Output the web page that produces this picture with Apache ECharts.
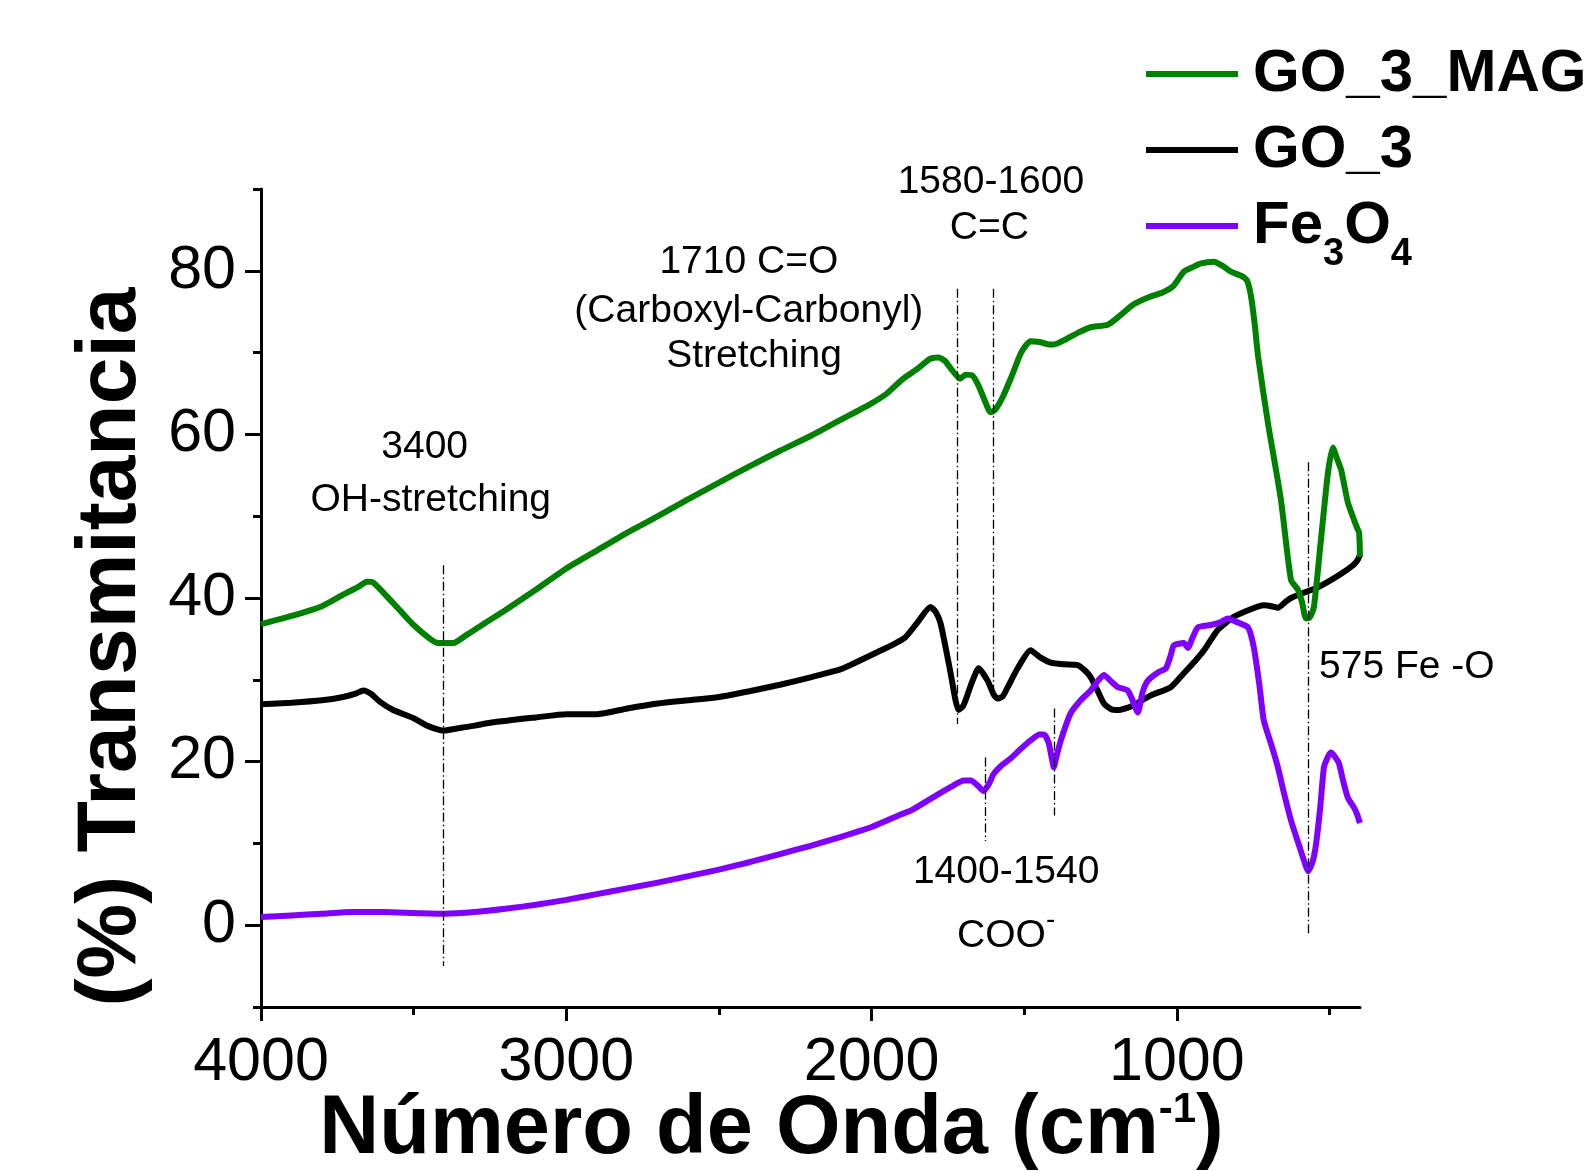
<!DOCTYPE html>
<html>
<head>
<meta charset="utf-8">
<title>FTIR GO_3_MAG</title>
<script src="https://cdn.jsdelivr.net/npm/echarts@6.0.0/dist/echarts.min.js"></script>
<style>
  html, body { margin: 0; padding: 0; background: #fff; }
  #chart { width: 1592px; height: 1171px; }
</style>
</head>
<body>
<div id="chart"></div>
<script>
// wavenumber (cm-1) / transmittance (%)
const goMagWn = [4000, 3900, 3800, 3731, 3680, 3653, 3633, 3580, 3540, 3500, 3446, 3420, 3370, 3330, 3280, 3200, 3100, 3000, 2900, 2800, 2700, 2600, 2500, 2400, 2300, 2200, 2100, 2000, 1950, 1900, 1850, 1810, 1780, 1760, 1735, 1710, 1692, 1670, 1650, 1630, 1610, 1595, 1570, 1540, 1510, 1479, 1450, 1420, 1403, 1360, 1320, 1282, 1226, 1190, 1141, 1090, 1043, 1010, 977, 950, 921, 879, 850, 823, 790, 770, 757, 745, 734, 702, 659, 626, 603, 590, 577, 565, 551, 528, 505, 489, 475, 462, 440, 423, 410, 403, 400];
const goMagT = [36.8, 37.8, 39.0, 40.4, 41.4, 42.0, 41.9, 39.9, 38.3, 36.7, 35.0, 34.5, 34.5, 35.4, 36.6, 38.5, 41.0, 43.6, 45.8, 48.0, 50.0, 52.1, 54.1, 56.1, 58.0, 59.8, 61.8, 63.8, 65.0, 66.7, 68.0, 69.2, 69.4, 69.0, 67.8, 66.8, 67.3, 67.2, 66.0, 64.2, 62.7, 63.0, 64.6, 67.2, 70.0, 71.4, 71.3, 71.0, 71.0, 71.7, 72.5, 73.1, 73.4, 74.4, 75.9, 76.8, 77.4, 78.2, 79.9, 80.4, 80.9, 81.1, 80.6, 79.9, 79.4, 78.8, 76.9, 73.5, 69.6, 61.5, 52.0, 42.2, 41.0, 39.5, 37.5, 37.6, 38.9, 47.1, 55.3, 58.4, 57.0, 55.7, 51.7, 49.9, 48.6, 48.0, 45.0];

const goWn = [4000, 3900, 3800, 3731, 3690, 3665, 3640, 3610, 3567, 3500, 3456, 3403, 3350, 3300, 3239, 3100, 3000, 2900, 2800, 2700, 2600, 2500, 2400, 2300, 2200, 2100, 2069, 1980, 1930, 1889, 1850, 1807, 1790, 1774, 1755, 1741, 1725, 1715, 1700, 1692, 1670, 1649, 1620, 1600, 1587, 1570, 1554, 1520, 1479, 1450, 1413, 1370, 1325, 1300, 1282, 1260, 1239, 1215, 1193, 1160, 1141, 1085, 1020, 977, 940, 911, 866, 813, 760, 715, 690, 669, 645, 626, 580, 538, 490, 452, 420, 407, 400];
const goT = [27.0, 27.2, 27.5, 27.9, 28.3, 28.7, 28.3, 27.3, 26.3, 25.3, 24.4, 23.8, 24.1, 24.4, 24.8, 25.4, 25.8, 25.8, 26.5, 27.1, 27.5, 27.9, 28.6, 29.4, 30.3, 31.3, 31.8, 33.4, 34.3, 35.2, 37.0, 38.9, 38.3, 36.9, 33.5, 30.8, 27.5, 26.3, 26.8, 27.5, 29.8, 31.4, 29.9, 28.2, 27.7, 28.0, 29.1, 31.5, 33.6, 32.8, 32.1, 31.9, 31.8, 31.1, 30.3, 28.7, 27.1, 26.4, 26.3, 26.6, 26.9, 28.1, 29.1, 30.8, 32.3, 33.6, 36.1, 37.7, 38.6, 39.1, 39.0, 38.8, 39.5, 40.0, 40.7, 41.3, 42.3, 43.2, 44.1, 44.7, 45.3];

const feWn = [4000, 3900, 3800, 3700, 3600, 3500, 3400, 3300, 3200, 3100, 3000, 2900, 2800, 2700, 2600, 2500, 2400, 2300, 2200, 2100, 2000, 1900, 1872, 1800, 1740, 1698, 1675, 1650, 1633, 1615, 1600, 1575, 1544, 1510, 1479, 1450, 1435, 1420, 1410, 1403, 1395, 1380, 1348, 1315, 1282, 1260, 1239, 1215, 1193, 1161, 1145, 1128, 1112, 1095, 1062, 1036, 1020, 1010, 977, 964, 950, 931, 889, 860, 833, 800, 767, 748, 730, 715, 690, 669, 650, 626, 600, 580, 570, 555, 544, 530, 518, 505, 495, 482, 469, 455, 440, 420, 410, 403, 400];
const feT = [1.0, 1.2, 1.4, 1.6, 1.6, 1.5, 1.4, 1.6, 2.0, 2.5, 3.1, 3.8, 4.5, 5.2, 6.0, 6.8, 7.7, 8.7, 9.7, 10.8, 12.0, 13.6, 14.0, 15.6, 16.9, 17.7, 17.7, 17.0, 16.4, 17.3, 18.5, 19.5, 20.4, 21.6, 22.6, 23.3, 23.3, 22.3, 20.5, 19.3, 20.5, 22.6, 25.9, 27.5, 28.7, 29.8, 30.6, 29.8, 29.1, 28.7, 27.5, 26.0, 28.5, 29.9, 30.9, 31.4, 33.0, 34.2, 34.5, 33.9, 35.0, 36.4, 36.7, 37.0, 37.5, 37.0, 36.4, 34.0, 29.5, 25.0, 22.0, 19.3, 16.3, 12.8, 9.8, 7.5, 6.6, 7.8, 9.9, 14.5, 19.3, 20.6, 21.1, 20.6, 19.8, 17.6, 15.6, 14.4, 13.6, 12.8, 12.5];

const seriesNames = ['GO_3_MAG', 'GO_3', 'Fe3O4'];
const seriesColors = ['#008000', '#000000', '#8000ff'];

const xMajor = [4000, 3000, 2000, 1000];
const xMinor = [3500, 2500, 1500, 500];
const yMajor = [0, 20, 40, 60, 80];
const yMinor = [-10, 10, 30, 50, 70, 90];

// dash-dot guide lines: [wavenumber, top %, bottom %]
const guideLines = [
  [3403, 44.0, -5.0],
  [1718, 77.8, 24.6],
  [1600, 77.8, 28.8],
  [1626, 20.5, 10.3],
  [1403, 26.5, 13.4],
  [570, 56.6, -1.3]
];

// annotation texts: [wavenumber, %, text, placement]
const notes = [
  [3464, 58.4, '3400', 'inside'],
  [3444, 52.0, 'OH-stretching', 'inside'],
  [2402, 81.0, '1710 C=O', 'inside'],
  [2402, 75.1, '(Carboxyl-Carbonyl)', 'inside'],
  [2385, 69.5, 'Stretching', 'inside'],
  [1609, 90.8, '1580-1600', 'inside'],
  [1614, 85.2, 'C=C', 'inside'],
  [534, 31.5, '575 Fe -O', 'right'],
  [1559, 6.5, '1400-1540', 'inside'],
  [1559, -0.4, '{a|COO}{s|-}', 'inside']
];

const FONT = 'Liberation Sans, Arial, sans-serif';

function pairs(xs, ys) {
  return xs.map((x, i) => [x, ys[i]]);
}

const chart = echarts.init(document.getElementById('chart'));

const lineSeries = [pairs(goMagWn, goMagT), pairs(goWn, goT), pairs(feWn, feT)].map((d, i) => ({
  name: seriesNames[i],
  type: 'line',
  data: d,
  symbol: 'none',
  smooth: 0.2,
  z: [4, 2, 3][i],
  lineStyle: { width: 6, color: seriesColors[i] },
  itemStyle: { color: seriesColors[i] }
}));

lineSeries[1].markLine = {
  silent: true,
  symbol: ['none', 'none'],
  label: { show: false },
  lineStyle: { color: '#000', width: 1.3, type: [9, 3, 1.5, 3] },
  data: guideLines.map(g => [{ coord: [g[0], g[1]] }, { coord: [g[0], g[2]] }])
};

const noteText = { fontFamily: FONT, fontSize: 39, color: '#000', opacity: 1 };

const noteSeries = {
  type: 'scatter',
  silent: true,
  clip: false,
  symbolSize: 0,
  z: 6,
  itemStyle: { opacity: 1 },
  data: notes.map(n => ({
    value: [n[0], n[1]],
    label: Object.assign({
      show: true,
      position: n[3],
      distance: 0,
      formatter: n[2],
      rich: {
        a: Object.assign({ lineHeight: 44, padding: [10, 0, 0, 0], verticalAlign: 'top' }, noteText),
        s: { fontFamily: FONT, fontSize: 28, color: '#000', lineHeight: 30, verticalAlign: 'top' }
      }
    }, noteText)
  }))
};

const axisLineStyle = { color: '#000', width: 3 };
const plainNum = v => String(v);

chart.setOption({
  animation: false,
  backgroundColor: '#fff',
  grid: { left: 261, right: 232, top: 189, bottom: 164, containLabel: false, outerBoundsMode: 'none' },
  legend: {
    data: seriesNames,
    orient: 'vertical',
    left: 1141,
    top: 39,
    itemWidth: 92,
    itemHeight: 6,
    itemGap: 16,
    icon: 'rect',
    selectedMode: false,
    formatter: name => name === 'Fe3O4' ? '{p|}{n|Fe}{s|3}{n|O}{s|4}' : '{p|}{n|' + name + '}',
    textStyle: {
      rich: {
        p: { width: 10 },
        n: { fontFamily: FONT, fontSize: 60, fontWeight: 'bold', color: '#000', lineHeight: 60, verticalAlign: 'top' },
        s: { fontFamily: FONT, fontSize: 38, fontWeight: 'bold', color: '#000', lineHeight: 40, padding: [40, 0, 0, 0], verticalAlign: 'top' }
      }
    }
  },
  xAxis: [
    {
      type: 'value', min: 400, max: 4000, inverse: true, position: 'bottom',
      axisLine: { onZero: false, lineStyle: axisLineStyle },
      axisTick: { customValues: xMajor, length: 14, lineStyle: axisLineStyle },
      axisLabel: { customValues: xMajor, formatter: plainNum, fontSize: 61, color: '#000', fontFamily: FONT, margin: 26 },
      splitLine: { show: false },
      name: '{t|Número de Onda (cm}{u|-1}{t|)}',
      nameLocation: 'middle',
      nameMoveOverlap: false,
      nameGap: 82,
      nameTextStyle: {
        padding: [0, 78, 0, 0],
        rich: {
          t: { fontFamily: FONT, fontSize: 83, fontWeight: 'bold', color: '#000', lineHeight: 90, verticalAlign: 'top' },
          u: { fontFamily: FONT, fontSize: 42, fontWeight: 'bold', color: '#000', lineHeight: 58, verticalAlign: 'top' }
        }
      }
    },
    {
      type: 'value', min: 400, max: 4000, inverse: true, position: 'bottom',
      axisLine: { show: false, onZero: false },
      axisTick: { customValues: xMinor, length: 8, lineStyle: axisLineStyle },
      axisLabel: { show: false },
      splitLine: { show: false }
    }
  ],
  yAxis: [
    {
      type: 'value', min: -10, max: 90, position: 'left',
      axisLine: { show: true, onZero: false, lineStyle: axisLineStyle },
      axisTick: { show: true, customValues: yMajor, length: 16, lineStyle: axisLineStyle },
      axisLabel: { customValues: yMajor, formatter: plainNum, fontSize: 61, color: '#000', fontFamily: FONT, margin: 25 },
      splitLine: { show: false },
      name: '(%) Transmitancia',
      nameLocation: 'middle',
      nameMoveOverlap: false,
      nameRotate: 90,
      nameGap: 107,
      nameTextStyle: { fontFamily: FONT, fontSize: 84, fontWeight: 'bold', color: '#000', padding: [0, 98, 0, 0] }
    },
    {
      type: 'value', min: -10, max: 90, position: 'left',
      axisLine: { show: false, onZero: false },
      axisTick: { show: true, customValues: yMinor, length: 8, lineStyle: axisLineStyle },
      axisLabel: { show: false },
      splitLine: { show: false }
    }
  ],
  series: lineSeries.concat([noteSeries])
});
</script>
</body>
</html>
